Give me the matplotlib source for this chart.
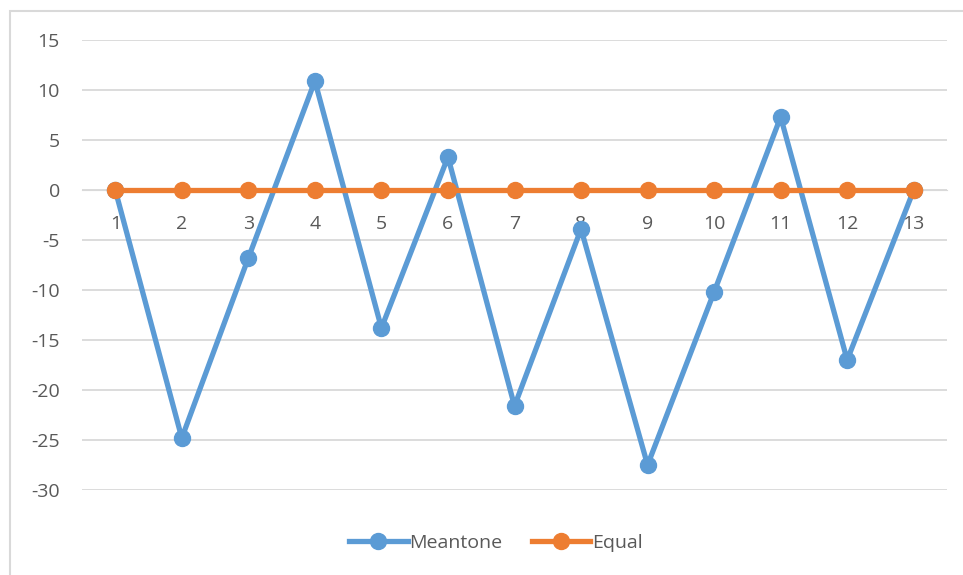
import matplotlib.pyplot as plt
from matplotlib.patches import Rectangle

# data
steps = list(range(1, 14))
meantone = [0, -24.8, -6.8, 10.9, -13.8, 3.3, -21.6, -3.9, -27.5, -10.2, 7.3, -17.0, 0]
equal = [0] * 13

blue = '#5B9BD5'
orange = '#ED7D31'
text_col = '#595959'

plt.rcParams['font.family'] = ['Open Sans', 'DejaVu Sans']
plt.rcParams['axes.unicode_minus'] = False

fig = plt.figure(figsize=(9.63, 5.75), dpi=100)
ax = fig.add_axes([82 / 963, 1 - 490 / 575, 865 / 963, 450 / 575])

# outer chart border like the Excel chart area
fig.patches.append(Rectangle((10 / 963, -0.02), 1.0, 1 - 11 / 575 + 0.02,
                             transform=fig.transFigure, fill=False,
                             edgecolor='#d9d9d9', linewidth=1.5))

ax.plot(steps, meantone, color=blue, lw=3.8, marker='o', ms=11.5, label='Meantone', zorder=3)
ax.plot(steps, equal, color=orange, lw=3.8, marker='o', ms=11.5, label='Equal', zorder=4)

ax.set_xlim(0.5, 13.5)
ax.set_ylim(-30, 15)
ax.set_yticks(range(-30, 16, 5))
ax.set_xticks(steps)
ax.grid(axis='y', color='#d9d9d9', lw=1.3)
ax.set_axisbelow(True)

for s in ['top', 'right', 'left']:
    ax.spines[s].set_visible(False)
ax.spines['bottom'].set_position(('data', 0))
ax.spines['bottom'].set_color('#d9d9d9')

ax.tick_params(axis='x', length=0, pad=18, labelsize=14, labelcolor=text_col)
ax.tick_params(axis='y', length=0, pad=16, labelsize=14, labelcolor=text_col)

fig.legend(loc='center', bbox_to_anchor=(496 / 963, 1 - 543 / 575), ncol=2,
           frameon=False, fontsize=14, labelcolor=text_col, handlelength=3,
           handletextpad=0.1, columnspacing=1.5)

fig.savefig('out.png', dpi=100)
